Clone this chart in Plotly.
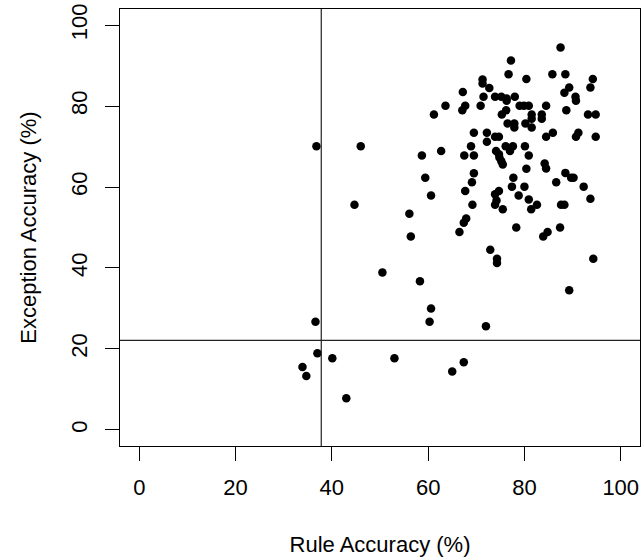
import plotly.graph_objects as go

# Rule accuracy (%) and exception accuracy (%) per participant
rule_acc = [
    87.5, 77.2, 76.7, 80.4, 85.8, 88.5, 94.2, 93.7, 71.3, 71.3,
    72.7, 67.2, 89.3, 88.3, 90.6, 90.7, 71.5, 73.9, 75.2, 76.3,
    78.0, 76.3, 70.9, 67.7, 67.1, 63.6, 61.2, 79.0, 79.9, 80.9,
    84.5, 88.7, 93.2, 94.8, 76.2, 75.3, 81.5, 81.5, 83.6, 83.6,
    76.5, 77.9, 77.9, 80.2, 81.5, 84.5, 85.9, 69.5, 72.2, 72.2,
    73.9, 74.7, 90.7, 91.2, 94.8, 36.8, 46.0, 58.7, 62.7, 68.9,
    67.5, 69.5, 74.1, 74.7, 74.8, 75.2, 75.5, 76.1, 77.6, 77.0,
    80.1, 80.9, 84.2, 84.5, 80.4, 69.5, 69.1, 59.4, 60.6, 67.7,
    77.7, 77.4, 80.0, 78.8, 80.9, 73.9, 74.7, 88.5, 89.7, 90.2,
    86.6, 92.3, 93.7, 69.2, 74.2, 73.9, 75.5, 82.6, 81.4, 87.6,
    88.3, 44.7, 56.1, 56.4, 67.9, 67.4, 66.5, 78.3, 84.8, 83.9,
    87.4, 72.9, 74.3, 74.3, 94.3, 50.5, 58.3, 89.3, 60.6, 60.3,
    36.6, 72.0, 37.0, 40.1, 33.9, 34.7, 43.0, 53.0, 65.0, 67.4,
]
exc_acc = [
    94.5, 91.3, 87.9, 86.7, 87.9, 87.9, 86.7, 84.6, 86.6, 85.6,
    84.5, 83.5, 84.6, 83.3, 82.3, 81.3, 82.3, 82.3, 82.3, 81.9,
    82.3, 81.3, 80.1, 80.1, 79.0, 80.1, 77.9, 80.1, 80.1, 80.1,
    80.1, 79.0, 77.9, 77.9, 79.0, 77.9, 77.9, 76.9, 77.9, 76.9,
    75.7, 75.7, 74.7, 75.7, 74.7, 72.4, 73.4, 73.4, 73.4, 71.2,
    72.4, 72.4, 72.4, 73.4, 72.4, 70.1, 70.1, 67.8, 68.9, 70.1,
    67.8, 67.8, 68.9, 68.1, 67.3, 66.4, 65.6, 70.1, 70.1, 68.9,
    70.1, 67.8, 65.8, 64.6, 64.5, 63.4, 61.2, 62.3, 57.9, 59.0,
    62.3, 60.1, 60.1, 57.9, 56.9, 58.2, 59.0, 63.5, 62.3, 62.3,
    61.2, 60.1, 57.1, 55.6, 56.7, 55.6, 54.5, 55.6, 54.5, 55.6,
    55.6, 55.6, 53.4, 47.8, 52.2, 51.2, 48.9, 50.0, 48.9, 47.8,
    50.0, 44.5, 42.3, 41.2, 42.3, 38.9, 36.7, 34.5, 30.0, 26.7,
    26.7, 25.6, 18.9, 17.7, 15.5, 13.3, 7.8, 17.7, 14.4, 16.7,
]

rule_cutoff = 37.8
exception_cutoff = 22.1

tick_vals = [0, 20, 40, 60, 80, 100]
tick_text = ["0", "20", "40", "60", "80", "100"]

FONT = "Liberation Sans, Arial, Helvetica, sans-serif"

fig = go.Figure()
fig.add_trace(go.Scatter(
    x=rule_acc, y=exc_acc, mode="markers",
    marker=dict(color="black", size=8.5, line=dict(width=0)),
    showlegend=False, hoverinfo="x+y",
))

fig.add_vline(x=rule_cutoff, line=dict(color="#222222", width=1.2))
fig.add_hline(y=exception_cutoff, line=dict(color="#222222", width=1.2))

axis_common = dict(
    range=[-4, 104], tickvals=tick_vals, ticktext=tick_text,
    showgrid=False, zeroline=False,
    showline=True, mirror=True, linecolor="black", linewidth=1.2,
    ticks="outside", ticklen=14, tickwidth=1.2, tickcolor="black",
    tickfont=dict(family=FONT, size=22, color="black"),
    automargin=False,
)

fig.update_layout(
    width=643, height=559,
    margin=dict(l=120, r=3, t=9, b=113),
    paper_bgcolor="white", plot_bgcolor="white",
    font=dict(family=FONT, size=22, color="black"),
    xaxis=dict(**axis_common,
               title=dict(text="Rule Accuracy (%)", standoff=38,
                          font=dict(family=FONT, size=22, color="black")),
               ticklabelstandoff=7),
    yaxis=dict(**axis_common, tickangle=-90,
               title=dict(text="Exception Accuracy (%)", standoff=24,
                          font=dict(family=FONT, size=22, color="black")),
               ticklabelstandoff=9),
)

fig.write_html("out.html")
